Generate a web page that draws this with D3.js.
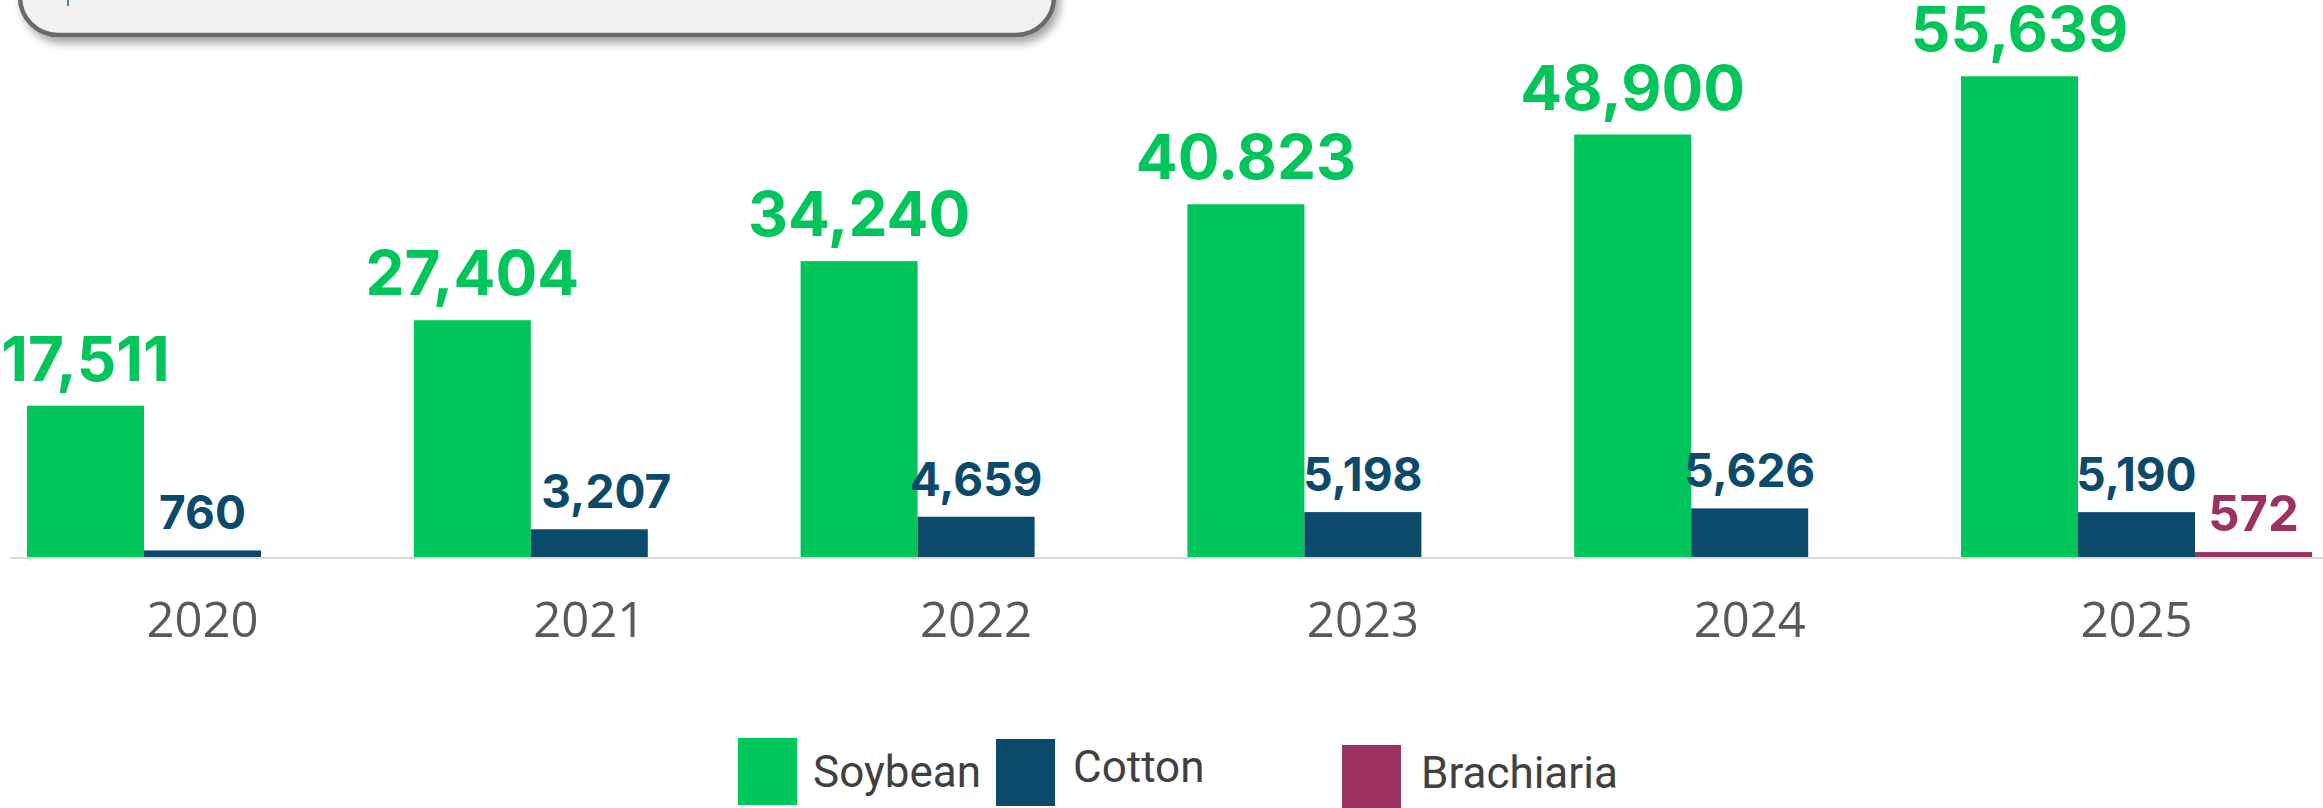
<!DOCTYPE html>
<html>
<head>
<meta charset="utf-8">
<script src="https://cdn.jsdelivr.net/npm/d3@7"></script>
<style>
  html, body { margin: 0; padding: 0; background: #fff; }
  svg { display: block; }
</style>
</head>
<body>
<div id="chart"></div>
<script>
const years = ["2020", "2021", "2022", "2023", "2024", "2025"];
const soybean = [17511, 27404, 34240, 40823, 48900, 55639];
const soybeanLabels = ["17,511", "27,404", "34,240", "40.823", "48,900", "55,639"];
const cotton = [760, 3207, 4659, 5198, 5626, 5190];
const brachiaria = [null, null, null, null, null, 572];
const seriesNames = ["Soybean", "Cotton", "Brachiaria"];
const seriesColors = ["#00c55a", "#0b4a6b", "#9b3262"];

function init() {
	width = 2323;
	height = 808;

	const svg = d3
		.select("div#chart")
		.append("svg")
		.attr("width", width)
		.attr("height", height);

	// title box, only its lower part is visible
	const defs = svg.append("defs");
	const f = defs.append("filter").attr("id", "shadow")
		.attr("x", "-5%").attr("y", "-50%").attr("width", "110%").attr("height", "200%");
	f.append("feDropShadow")
		.attr("dx", 4).attr("dy", 6).attr("stdDeviation", 4)
		.attr("flood-color", "#000").attr("flood-opacity", 0.35);

	svg.append("rect")
		.attr("x", 20)
		.attr("y", -80)
		.attr("width", 1034)
		.attr("height", 115)
		.attr("rx", 38)
		.attr("fill", "#f1f1f1")
		.attr("stroke", "#6b6b6b")
		.attr("stroke-width", 4.5)
		.attr("filter", "url(#shadow)");

	svg.append("line")
		.attr("x1", 68).attr("x2", 68)
		.attr("y1", 0).attr("y2", 6)
		.attr("stroke", "#1f5a8a")
		.attr("stroke-width", 1.5);

	const table = years.map((yr, i) => ({
		year: yr,
		values: [
			{ key: seriesNames[0], value: soybean[i], label: soybeanLabels[i] },
			{ key: seriesNames[1], value: cotton[i], label: cotton[i] == null ? null : d3.format(",")(cotton[i]) },
			{ key: seriesNames[2], value: brachiaria[i], label: brachiaria[i] == null ? null : d3.format(",")(brachiaria[i]) }
		]
	}));

	x0 = d3
		.scaleBand()
		.domain(years)
		.range([27, 2312])
		.paddingInner(0.0926)
		.paddingOuter(0);

	x1 = d3
		.scaleBand()
		.domain(seriesNames)
		.range([0, x0.bandwidth()])
		.padding(0);

	y = d3
		.scaleLinear()
		.domain([0, 60000])
		.range([557, 557 - 518.4]);

	color = d3.scaleOrdinal().domain(seriesNames).range(seriesColors);

	// baseline
	svg.append("line")
		.attr("x1", 10)
		.attr("x2", width)
		.attr("y1", y(0) + 1)
		.attr("y2", y(0) + 1)
		.attr("stroke", "#d9d9d9")
		.attr("stroke-width", 2);

	const groups = svg
		.append("g")
		.selectAll("g")
		.data(table)
		.join("g")
		.attr("transform", (d) => `translate(${x0(d.year)},0)`);

	groups
		.selectAll("rect")
		.data((d) => d.values.filter((v) => v.value != null))
		.join("rect")
		.attr("x", (d) => x1(d.key))
		.attr("width", x1.bandwidth())
		.attr("y", (d) => y(d.value))
		.attr("height", (d) => y(0) - y(d.value))
		.attr("fill", (d) => color(d.key));

	groups
		.selectAll("text")
		.data((d) => d.values.filter((v) => v.value != null).map((v) => ({ ...v, year: d.year })))
		.join("text")
		.attr("x", (d) => x1(d.key) + x1.bandwidth() / 2)
		.attr("dx", (d) => (d.key == "Cotton" && d.year == "2021" ? 17 : 0)) // label sits a bit right in the original
		.attr("y", (d) => y(d.value) - (d.key == "Soybean" ? 25 : 21))
		.attr("text-anchor", "middle")
		.attr("font-family", "Inter, sans-serif")
		.attr("font-weight", 700)
		.attr("font-size", (d) => (d.key == "Soybean" ? 62 : d.key == "Cotton" ? 46 : 49))
		.attr("fill", (d) => color(d.key))
		.text((d) => d.label);

	// year labels
	xAxis = (g) =>
		g.attr("transform", `translate(0, ${y(0)})`)
			.call(d3.axisBottom(x0).tickSize(0).tickSizeOuter(0))
			.call((g) => g.select(".domain").remove())
			.call((g) => g.selectAll("text")
				.attr("y", 80)
				.attr("dy", null)
				.attr("font-family", "'Open Sans', sans-serif")
				.attr("font-size", 49)
				.attr("fill", "#595959"));

	svg.append("g").call(xAxis);

	// legend
	const legendX = [738, 996, 1342];
	const legendY = [738, 739, 745];
	const legend = svg
		.append("g")
		.selectAll("g")
		.data(seriesNames)
		.join("g")
		.attr("transform", (d, i) => `translate(${legendX[i]},${legendY[i]})`);

	legend.append("rect")
		.attr("width", 59)
		.attr("height", 67)
		.attr("fill", (d) => color(d));

	legend.append("text")
		.attr("x", (d, i) => [75, 77, 79][i])
		.attr("y", (d, i) => [34, 28, 28][i])
		.attr("dominant-baseline", "central")
		.attr("font-family", "Roboto, sans-serif")
		.attr("font-size", 44)
		.attr("fill", "#404040")
		.text((d) => d);
}

init();
</script>
</body>
</html>
